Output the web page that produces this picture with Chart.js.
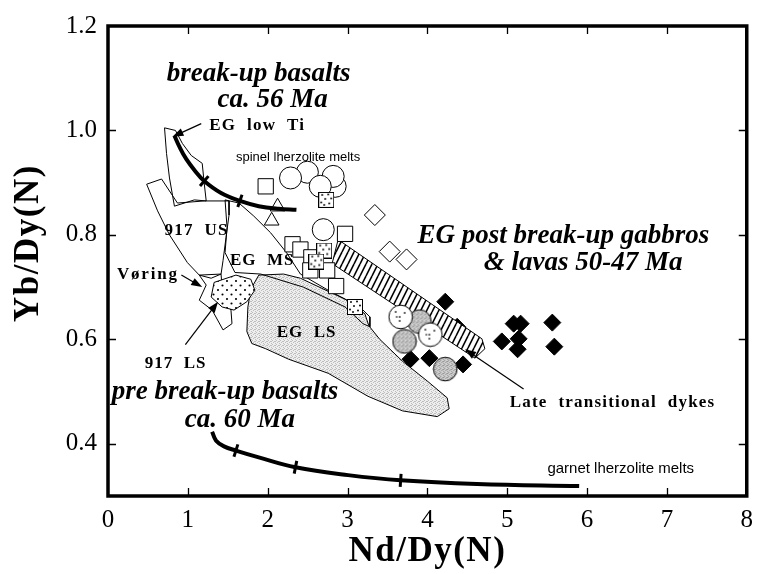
<!DOCTYPE html>
<html>
<head>
<meta charset="utf-8">
<script src="https://cdn.jsdelivr.net/npm/chart.js@4.4.1/dist/chart.umd.min.js"></script>
<style>
  html, body { margin: 0; padding: 0; background: #fff; }
  canvas { display: block; }
</style>
</head>
<body>
<canvas id="chart" width="762" height="574"></canvas>
<script>
// Nd/Dy(N) vs Yb/Dy(N) for East Greenland / Vøring magmatic suites

const xTicks = [0, 1, 2, 3, 4, 5, 6, 7, 8];
const yTicks = [0.4, 0.6, 0.8, 1.0, 1.2];

// melting curves (spinel and garnet lherzolite) with marked increments
const spinelMeltCurve = [[0.832,0.990],[0.894,0.969],[0.981,0.945],[1.093,0.922],[1.205,0.903],[1.416,0.880],[1.652,0.865],[1.888,0.855],[2.137,0.850],[2.360,0.848]];
const spinelTickIndex = [4, 6];
const garnetMeltCurve = [[1.304,0.423],[1.354,0.406],[1.453,0.395],[1.602,0.387],[1.888,0.374],[2.348,0.355],[3.006,0.340],[3.665,0.330],[4.621,0.323],[5.901,0.319]];
const garnetTickIndex = [3, 5, 7];

// compositional fields
const fieldEGLowTi = [[0.708,1.005],[0.845,1.000],[0.932,0.975],[1.043,0.952],[1.180,0.937],[1.205,0.899],[1.230,0.865],[1.081,0.867],[0.832,0.855],[0.770,0.909],[0.733,0.956]];
const field917US = [[0.484,0.897],[0.671,0.907],[0.870,0.861],[1.205,0.865],[1.516,0.865],[1.516,0.838],[1.478,0.795],[1.441,0.751],[1.416,0.725],[1.292,0.717],[1.143,0.723],[0.994,0.747],[0.770,0.800],[0.621,0.846]];
const fieldVoring = [[1.143,0.723],[1.230,0.704],[1.143,0.675],[1.304,0.656],[1.441,0.618],[1.553,0.630],[1.540,0.656],[1.441,0.675],[1.416,0.725]];
const fieldEGMS = [[1.466,0.867],[1.640,0.861],[1.826,0.836],[2.037,0.804],[2.236,0.766],[2.410,0.725],[2.758,0.694],[2.969,0.677],[3.155,0.662],[3.280,0.643],[3.280,0.624],[3.193,0.630],[2.969,0.662],[2.447,0.700],[1.913,0.725],[1.590,0.728],[1.466,0.766],[1.491,0.814]];
const field917LS = [[1.329,0.709],[1.602,0.723],[1.789,0.715],[1.839,0.694],[1.739,0.672],[1.578,0.656],[1.429,0.662],[1.292,0.681]];
const fieldEGLS = [[1.888,0.723],[2.199,0.725],[2.410,0.717],[2.758,0.692],[2.969,0.677],[3.217,0.649],[3.267,0.626],[3.404,0.600],[3.689,0.558],[4.000,0.520],[4.248,0.488],[4.273,0.467],[4.124,0.452],[3.689,0.463],[3.255,0.491],[2.758,0.535],[2.261,0.562],[1.975,0.582],[1.801,0.592],[1.739,0.615],[1.752,0.662],[1.789,0.696]];
const lateDykeBand = [[2.882,0.791],[4.683,0.601],[4.720,0.582],[4.596,0.564],[2.807,0.745]];

// post break-up gabbros & lavas, individual samples
const openCircles = [[2.845,0.893],[2.497,0.920],[2.820,0.912],[2.286,0.909],[2.658,0.893],[2.696,0.810]];
const openSquares = [[1.975,0.893],[2.969,0.802],[2.311,0.782],[2.410,0.772],[2.547,0.757],[2.534,0.732],[2.745,0.732],[2.857,0.702]];
const stippledSquares = [[2.733,0.867],[2.708,0.770],[2.609,0.749],[3.093,0.662]];
const openTriangles = [[2.124,0.854],[2.050,0.827]];
const openDiamonds = [[3.342,0.838],[3.528,0.768],[3.739,0.753]];
const filledDiamonds = [[4.224,0.672],[4.373,0.624],[5.081,0.630],[5.168,0.630],[5.565,0.632],[4.932,0.596],[5.143,0.601],[5.130,0.581],[5.590,0.586],[3.789,0.562],[4.025,0.564],[4.447,0.552]];
const greyCircles = [[3.901,0.634],[3.714,0.596],[4.224,0.543]];
const dashedCircles = [[3.665,0.643],[4.037,0.609]];

// ---------- fills and marker images ----------
const SERIF = '"Liberation Serif", "Times New Roman", serif';
const SANS = '"Liberation Sans", Arial, sans-serif';

function makeTile(w, h, draw) {
  const c = document.createElement('canvas');
  c.width = w; c.height = h;
  draw(c.getContext('2d'), w, h);
  return c;
}
const baseCtx = document.getElementById('chart').getContext('2d');

const dotTile = makeTile(9, 9, g => {
  g.fillStyle = '#fff'; g.fillRect(0, 0, 9, 9);
  g.fillStyle = '#000';
  [[2, 2], [6.5, 6.5]].forEach(([x, y]) => { g.beginPath(); g.arc(x, y, 1.05, 0, Math.PI * 2); g.fill(); });
});
const dotPattern = baseCtx.createPattern(dotTile, 'repeat');

function greyTile(light, dark, cells) {
  return makeTile(4, 4, g => {
    g.fillStyle = light; g.fillRect(0, 0, 4, 4);
    g.fillStyle = dark;
    cells.forEach(([x, y]) => g.fillRect(x, y, 1, 1));
  });
}
const lightGreyPattern = baseCtx.createPattern(greyTile('#eeeeee', '#bdbdbd', [[0,0],[2,1],[1,2],[3,3],[3,1]]), 'repeat');
const midGreyTile = greyTile('#d2d2d2', '#8e8e8e', [[0,0],[2,1],[1,2],[3,3],[3,1]]);

const hatchTile = makeTile(6, 12, g => {
  g.fillStyle = '#fff'; g.fillRect(0, 0, 6, 12);
  g.strokeStyle = '#000'; g.lineWidth = 1.6;
  [[-6, 0], [0, 0], [6, 0]].forEach(([ox]) => {
    g.beginPath(); g.moveTo(ox, 12); g.lineTo(ox + 6, 0); g.stroke();
  });
});
const hatchPattern = baseCtx.createPattern(hatchTile, 'repeat');

const stippledSquareImg = makeTile(16, 16, g => {
  g.fillStyle = '#fff'; g.fillRect(0, 0, 16, 16);
  g.fillStyle = '#000';
  [[4,3],[10,2.5],[13,6.5],[7,7],[3,10.5],[11,11.5],[6,13]].forEach(([x, y]) => { g.beginPath(); g.arc(x, y, 0.95, 0, Math.PI * 2); g.fill(); });
  g.strokeStyle = '#000'; g.lineWidth = 1; g.strokeRect(0.5, 0.5, 15, 15);
});
const greyCircleImg = makeTile(26, 26, g => {
  g.beginPath(); g.arc(13, 13, 11.8, 0, Math.PI * 2);
  g.fillStyle = g.createPattern(midGreyTile, 'repeat'); g.fill();
  g.strokeStyle = '#000'; g.lineWidth = 1; g.stroke();
});
const dashedCircleImg = makeTile(26, 26, g => {
  g.beginPath(); g.arc(13, 13, 11.8, 0, Math.PI * 2);
  g.fillStyle = '#fff'; g.fill();
  g.strokeStyle = '#000'; g.lineWidth = 1; g.stroke();
  g.lineWidth = 1.2;
  [[8,7,8,9],[17,8,17,10],[12,12,12,14],[12,16,12,18],[8,13,10,13]].forEach(([a,b,c,d]) => { g.beginPath(); g.moveTo(a,b); g.lineTo(c,d); g.stroke(); });
});

// ---------- dataset helpers ----------
const toPts = arr => arr.map(([x, y]) => ({ x, y }));
const closed = arr => toPts([...arr, arr[0]]);

function field(data, order, fill, bg) {
  return {
    data: closed(data), showLine: true, order,
    borderColor: '#000', borderWidth: 1, pointRadius: 0, tension: 0,
    fill: fill ? 'shape' : false, backgroundColor: bg || 'transparent'
  };
}
function curve(data, order) {
  return {
    data: toPts(data), showLine: true, order,
    borderColor: '#000', borderWidth: 4, pointRadius: 0, tension: 0.4, fill: false,
    borderCapStyle: 'butt'
  };
}
function markers(data, order, style, radius, bg, border) {
  return {
    data: toPts(data), showLine: false, order,
    pointStyle: style, pointRadius: radius,
    pointBackgroundColor: bg, pointBorderColor: border || '#000', pointBorderWidth: 1
  };
}

const datasets = [
  field(fieldEGLS, 14, true, lightGreyPattern),
  field(fieldEGLowTi, 13, false),
  field(field917US, 13, false),
  field(fieldVoring, 13, false),
  field(fieldEGMS, 13, false),
  field(field917LS, 12, true, dotPattern),
  curve(garnetMeltCurve, 11),
  markers(filledDiamonds, 10, 'rectRot', 8.5, '#000'),
  field(lateDykeBand, 9, true, hatchPattern),
  markers(openDiamonds, 8, 'rectRot', 10.5, '#fff'),
  markers(openTriangles, 7, 'triangle', 8.5, '#fff'),
  curve(spinelMeltCurve, 6),
  markers(openCircles, 5, 'circle', 11, '#fff'),
  markers(openSquares, 4, 'rect', 10.8, '#fff'),
  markers(stippledSquares, 3, stippledSquareImg, 8, '#fff'),
  markers(greyCircles, 2, greyCircleImg, 12, '#fff'),
  markers(dashedCircles, 1, dashedCircleImg, 12, '#fff')
];

// ---------- annotations ----------
const annotations = [
  { text: 'break-up basalts', x: 1.888, y: 1.094, font: `italic bold 27px ${SERIF}`, align: 'center' },
  { text: 'ca. 56 Ma', x: 2.062, y: 1.045, font: `italic bold 27px ${SERIF}`, align: 'center' },
  { text: 'EG  low  Ti', x: 1.267, y: 1.001, font: `bold 17px ${SERIF}`, align: 'left', spacing: 1.2 },
  { text: 'spinel lherzolite melts', x: 1.602, y: 0.941, font: `13px ${SANS}`, align: 'left' },
  { text: '917  US', x: 0.708, y: 0.799, font: `bold 17px ${SERIF}`, align: 'left', spacing: 1.2 },
  { text: 'EG  MS', x: 1.528, y: 0.742, font: `bold 17px ${SERIF}`, align: 'left', spacing: 1.0 },
  { text: 'Vøring', x: 0.112, y: 0.715, font: `bold 17px ${SERIF}`, align: 'left', spacing: 1.8 },
  { text: 'EG  LS', x: 2.112, y: 0.605, font: `bold 17px ${SERIF}`, align: 'left', spacing: 1.0 },
  { text: '917  LS', x: 0.460, y: 0.545, font: `bold 17px ${SERIF}`, align: 'left', spacing: 1.0 },
  { text: 'pre break-up basalts', x: 1.466, y: 0.486, font: `italic bold 27px ${SERIF}`, align: 'center' },
  { text: 'ca. 60 Ma', x: 1.652, y: 0.433, font: `italic bold 27px ${SERIF}`, align: 'center' },
  { text: 'EG post break-up gabbros', x: 5.702, y: 0.785, font: `italic bold 27px ${SERIF}`, align: 'center' },
  { text: '& lavas 50-47 Ma', x: 5.950, y: 0.732, font: `italic bold 27px ${SERIF}`, align: 'center' },
  { text: 'Late  transitional  dykes', x: 5.031, y: 0.471, font: `bold 17px ${SERIF}`, align: 'left', spacing: 1.2 },
  { text: 'garnet lherzolite melts', x: 5.503, y: 0.344, font: `15px ${SANS}`, align: 'left' }
];
const arrows = [
  { from: [1.168, 1.013], to: [0.807, 0.988] },
  { from: [0.919, 0.723], to: [1.180, 0.700] },
  { from: [0.969, 0.590], to: [1.379, 0.672] },
  { from: [5.205, 0.505], to: [4.472, 0.581] }
];

const overlayPlugin = {
  id: 'overlay',
  afterDatasetsDraw(chart) {
    const { ctx, scales: { x, y } } = chart;
    const px = v => x.getPixelForValue(v), py = v => y.getPixelForValue(v);
    ctx.save();
    // increments along the melting curves
    ctx.strokeStyle = '#000'; ctx.lineWidth = 3; ctx.lineCap = 'butt';
    [[spinelMeltCurve, spinelTickIndex], [garnetMeltCurve, garnetTickIndex]].forEach(([c, idx]) => {
      idx.forEach(i => {
        const a = c[i - 1], b = c[i + 1], p = c[i];
        const dx = px(b[0]) - px(a[0]), dy = py(b[1]) - py(a[1]);
        const l = Math.hypot(dx, dy), nx = -dy / l, ny = dx / l, h = 6.5;
        ctx.beginPath();
        ctx.moveTo(px(p[0]) - nx * h, py(p[1]) - ny * h);
        ctx.lineTo(px(p[0]) + nx * h, py(p[1]) + ny * h);
        ctx.stroke();
      });
    });
    // leader arrows
    ctx.lineWidth = 1.2; ctx.fillStyle = '#000';
    arrows.forEach(({ from, to }) => {
      const x0 = px(from[0]), y0 = py(from[1]), x1 = px(to[0]), y1 = py(to[1]);
      const ang = Math.atan2(y1 - y0, x1 - x0), L = 11, W = 4;
      ctx.beginPath(); ctx.moveTo(x0, y0);
      ctx.lineTo(x1 - Math.cos(ang) * L * 0.8, y1 - Math.sin(ang) * L * 0.8); ctx.stroke();
      ctx.beginPath(); ctx.moveTo(x1, y1);
      ctx.lineTo(x1 - Math.cos(ang) * L - Math.sin(ang) * W, y1 - Math.sin(ang) * L + Math.cos(ang) * W);
      ctx.lineTo(x1 - Math.cos(ang) * L + Math.sin(ang) * W, y1 - Math.sin(ang) * L - Math.cos(ang) * W);
      ctx.closePath(); ctx.fill();
    });
    // text labels
    ctx.textBaseline = 'alphabetic';
    annotations.forEach(a => {
      ctx.font = a.font; ctx.textAlign = a.align;
      ctx.letterSpacing = (a.spacing || 0) + 'px';
      ctx.fillText(a.text, px(a.x), py(a.y));
    });
    ctx.letterSpacing = '0px';
    ctx.restore();
  },
  afterDraw(chart) {
    const { ctx, chartArea: a, scales: { x, y } } = chart;
    ctx.save();
    ctx.strokeStyle = '#000';
    // inward tick marks on all four sides
    ctx.lineWidth = 1.3;
    xTicks.slice(1, -1).forEach(v => {
      const p = Math.round(x.getPixelForValue(v)) + 0.5;
      ctx.beginPath(); ctx.moveTo(p, a.top); ctx.lineTo(p, a.top + 8);
      ctx.moveTo(p, a.bottom); ctx.lineTo(p, a.bottom - 8); ctx.stroke();
    });
    yTicks.slice(0, -1).forEach(v => {
      const p = Math.round(y.getPixelForValue(v)) + 0.5;
      ctx.beginPath(); ctx.moveTo(a.left, p); ctx.lineTo(a.left + 8, p);
      ctx.moveTo(a.right, p); ctx.lineTo(a.right - 8, p); ctx.stroke();
    });
    // frame
    ctx.lineWidth = 3.5;
    ctx.strokeRect(a.left, a.top, a.right - a.left, a.bottom - a.top);
    // axis titles
    ctx.fillStyle = '#000';
    ctx.font = `bold 35px ${SERIF}`;
    ctx.letterSpacing = '1.5px';
    ctx.textAlign = 'center'; ctx.textBaseline = 'alphabetic';
    ctx.fillText('Nd/Dy(N)', (a.left + a.right) / 2, 561);
    ctx.translate(38, 243); ctx.rotate(-Math.PI / 2);
    ctx.fillText('Yb/Dy(N)', 0, 0);
    ctx.restore();
  }
};

new Chart(document.getElementById('chart'), {
  type: 'scatter',
  data: { datasets },
  options: {
    responsive: false,
    animation: false,
    devicePixelRatio: 1,
    events: [],
    layout: { padding: { top: 21, right: 10, left: 0, bottom: 0 } },
    plugins: { legend: { display: false }, tooltip: { enabled: false } },
    scales: {
      x: {
        type: 'linear', min: 0, max: 8,
        afterBuildTicks: s => { s.ticks = xTicks.map(v => ({ value: v })); },
        afterFit: s => { s.height = 78; },
        grid: { display: false, drawTicks: false },
        border: { display: false },
        ticks: { padding: 9, color: '#000', maxRotation: 0, autoSkip: false,
                 font: { family: SERIF, size: 25 }, callback: v => String(v) }
      },
      y: {
        type: 'linear', min: 0.3, max: 1.2,
        afterBuildTicks: s => { s.ticks = yTicks.map(v => ({ value: v })); },
        afterFit: s => { s.width = 108; },
        grid: { display: false, drawTicks: false },
        border: { display: false },
        ticks: { padding: 11, color: '#000', autoSkip: false,
                 font: { family: SERIF, size: 25 }, callback: v => Number(v).toFixed(1) }
      }
    }
  },
  plugins: [overlayPlugin]
});
</script>
</body>
</html>
